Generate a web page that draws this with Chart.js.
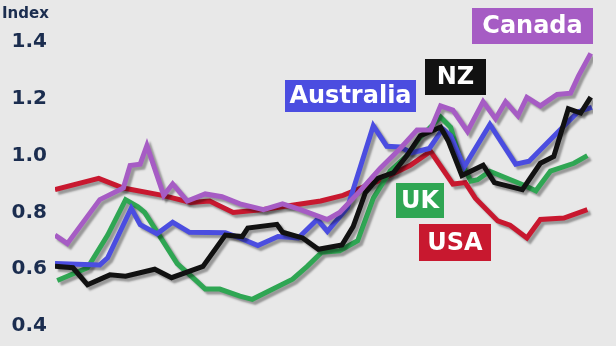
<!DOCTYPE html>
<html>
<head>
<meta charset="utf-8">
<script src="https://cdn.jsdelivr.net/npm/chart.js@4/dist/chart.umd.min.js"></script>
<style>
  html, body { margin: 0; padding: 0; background: #e8e8e8; }
  #wrap { width: 616px; height: 346px; }
</style>
</head>
<body>
<div id="wrap"><canvas id="grafico"></canvas></div>
<script>
// valores (x = periodo, y = indice)
const usaX = [0, 3.9, 6.1, 9.6, 12.1, 13.8, 15.9, 18.6, 21.0, 23.7, 25.7, 28.8, 31.7, 33.5, 35.5, 36.6, 37.5, 39.5, 40.6, 42.1, 43.3, 45.4, 47.5];
const usaY = [0.88, 0.92, 0.886, 0.86, 0.835, 0.84, 0.80, 0.81, 0.824, 0.84, 0.86, 0.91, 0.966, 1.015, 0.90, 0.905, 0.85, 0.77, 0.755, 0.71, 0.775, 0.78, 0.81];

const canX = [0, 1.1, 4.0, 6.1, 6.7, 7.6, 8.2, 9.7, 10.5, 11.8, 13.4, 14.9, 16.5, 18.6, 20.3, 21.9, 24.3, 25.4, 27.2, 29.0, 30.8, 32.3, 33.5, 34.4, 35.5, 36.8, 38.2, 39.3, 40.2, 41.3, 42.1, 43.3, 44.8, 46.0, 46.7, 47.8];
const canY = [0.72, 0.69, 0.845, 0.886, 0.965, 0.97, 1.035, 0.86, 0.90, 0.84, 0.865, 0.855, 0.83, 0.81, 0.83, 0.81, 0.775, 0.80, 0.875, 0.955, 1.025, 1.09, 1.09, 1.175, 1.16, 1.085, 1.19, 1.13, 1.19, 1.14, 1.205, 1.175, 1.215, 1.22, 1.28, 1.36];

const ausX = [0, 4.0, 4.7, 6.8, 7.6, 9.1, 10.5, 12.0, 15.2, 16.5, 18.1, 19.9, 21.7, 23.4, 24.3, 26.1, 28.4, 29.6, 30.8, 31.8, 33.4, 34.6, 35.3, 36.5, 38.8, 41.1, 42.3, 45.8, 46.7, 47.9];
const ausY = [0.62, 0.615, 0.64, 0.815, 0.757, 0.725, 0.765, 0.73, 0.728, 0.71, 0.683, 0.715, 0.71, 0.775, 0.733, 0.817, 1.105, 1.033, 1.03, 1.01, 1.025, 1.094, 1.07, 0.96, 1.11, 0.97, 0.98, 1.12, 1.155, 1.17];

const ukX = [0.2, 2.9, 4.7, 6.3, 7.4, 8.0, 10.9, 12.3, 13.4, 14.7, 16.5, 17.6, 21.2, 22.5, 23.8, 25.4, 27.0, 28.4, 29.9, 31.4, 32.6, 34.4, 35.3, 36.2, 37.1, 37.7, 38.8, 41.9, 42.9, 44.2, 46.3, 47.5];
const ukY = [0.56, 0.605, 0.72, 0.845, 0.82, 0.80, 0.62, 0.57, 0.53, 0.53, 0.505, 0.494, 0.565, 0.61, 0.66, 0.665, 0.70, 0.85, 0.945, 1.0, 1.065, 1.136, 1.10, 0.98, 0.91, 0.915, 0.945, 0.895, 0.876, 0.945, 0.973, 1.0];

const nzX = [0, 1.6, 2.9, 4.9, 6.3, 8.9, 10.4, 13.2, 15.2, 16.7, 17.2, 19.8, 20.3, 22.1, 23.5, 25.6, 26.6, 27.7, 28.8, 30.2, 31.4, 32.6, 34.4, 35.1, 36.3, 38.2, 39.2, 41.7, 43.3, 44.5, 45.8, 46.9, 47.8];
const nzY = [0.61, 0.605, 0.545, 0.58, 0.575, 0.60, 0.57, 0.61, 0.72, 0.715, 0.745, 0.758, 0.73, 0.71, 0.67, 0.685, 0.75, 0.87, 0.92, 0.94, 1.0, 1.07, 1.10, 1.05, 0.93, 0.966, 0.905, 0.88, 0.973, 0.997, 1.165, 1.15, 1.206];

const yTicks = [0.4, 0.6, 0.8, 1.0, 1.2, 1.4];

const colores = {
  Canada: "#a65cc4",
  NZ: "#111111",
  Australia: "#4b4de0",
  UK: "#2fa653",
  USA: "#c8182f"
};

// etiquetas con caja (x, y, ancho, alto)
const etiquetas = [
  { txt: "Canada", x: 472, y: 8, w: 121, h: 36 },
  { txt: "NZ", x: 425, y: 59, w: 61, h: 36 },
  { txt: "Australia", x: 285, y: 80, w: 131, h: 32 },
  { txt: "UK", x: 396, y: 183, w: 48, h: 35 },
  { txt: "USA", x: 419, y: 224, w: 72, h: 37 }
];

function puntos(xs, ys) {
  var out = [];
  for (var i = 0; i < xs.length; i++) out.push({ x: xs[i], y: ys[i] });
  return out;
}

function serie(nombre, xs, ys) {
  return {
    label: nombre,
    data: puntos(xs, ys),
    borderColor: colores[nombre],
    borderWidth: 5,
    borderJoinStyle: "miter",
    borderCapStyle: "butt",
    pointRadius: 0,
    tension: 0,
    fill: false
  };
}

const sombra = {
  id: "sombra",
  beforeDatasetDraw(chart) {
    const ctx = chart.ctx;
    ctx.save();
    ctx.shadowColor = "rgba(0,0,0,0.35)";
    ctx.shadowOffsetX = 3;
    ctx.shadowOffsetY = 3;
    ctx.shadowBlur = 2;
  },
  afterDatasetDraw(chart) {
    chart.ctx.restore();
  }
};

const cajas = {
  id: "cajas",
  afterDraw(chart) {
    const ctx = chart.ctx;
    ctx.save();
    ctx.fillStyle = "#1b2d4f";
    ctx.font = "bold 15px 'DejaVu Sans'";
    ctx.textAlign = "left";
    ctx.textBaseline = "alphabetic";
    ctx.fillText("Index", 2, 18);
    etiquetas.forEach(function (e) {
      ctx.fillStyle = colores[e.txt];
      ctx.fillRect(e.x, e.y, e.w, e.h);
      ctx.fillStyle = "#ffffff";
      ctx.font = "bold 24px 'DejaVu Sans'";
      ctx.textAlign = "center";
      ctx.textBaseline = "middle";
      ctx.fillText(e.txt, e.x + e.w / 2, e.y + e.h / 2 + 1);
    });
    ctx.restore();
  }
};

new Chart(document.getElementById("grafico"), {
  type: "line",
  data: {
    datasets: [
      serie("Canada", canX, canY),
      serie("NZ", nzX, nzY),
      serie("Australia", ausX, ausY),
      serie("UK", ukX, ukY),
      serie("USA", usaX, usaY)
    ]
  },
  options: {
    responsive: true,
    maintainAspectRatio: false,
    animation: false,
    layout: { padding: { top: 42, bottom: 16, left: 0, right: 23 } },
    plugins: { legend: { display: false }, tooltip: { enabled: false } },
    scales: {
      x: { type: "linear", min: 0, max: 48, display: false },
      y: {
        min: 0.4,
        max: 1.4,
        afterFit: function (scale) { scale.width = 55; },
        afterBuildTicks: function (scale) {
          scale.ticks = yTicks.map(function (v) { return { value: v }; });
        },
        grid: { display: false, drawTicks: false },
        border: { display: false },
        ticks: {
          padding: 8,
          color: "#1b2d4f",
          font: { family: "DejaVu Sans", size: 20, weight: "bold" },
          callback: function (v) { return Number(v).toFixed(1); }
        }
      }
    }
  },
  plugins: [sombra, cajas]
});
</script>
</body>
</html>
